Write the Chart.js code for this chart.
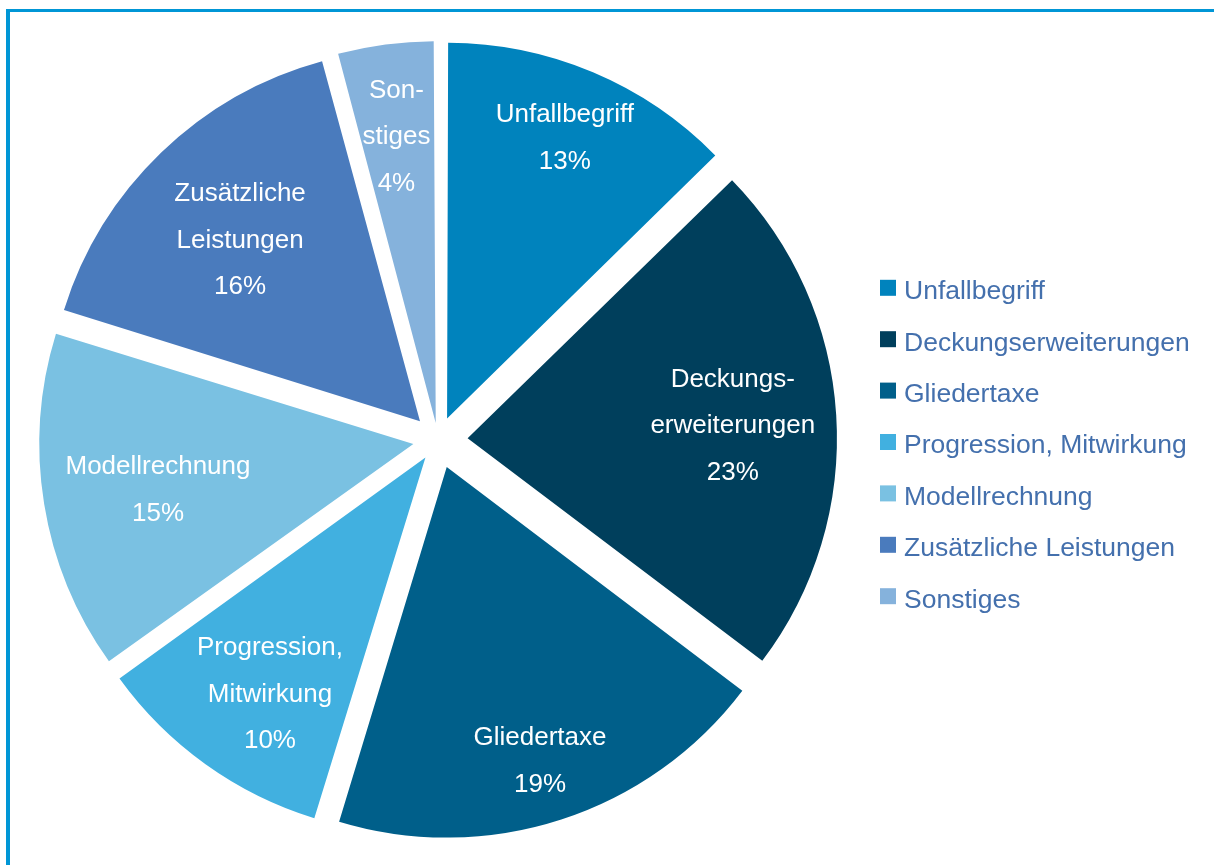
<!DOCTYPE html>
<html><head><meta charset="utf-8">
<script src="https://cdn.jsdelivr.net/npm/chart.js@4/dist/chart.umd.min.js"></script>
<style>
html,body{margin:0;padding:0;background:#fff;overflow:hidden}
#wrap{position:relative;width:1214px;height:865px}
#frame{position:absolute;left:6px;top:9px;right:-10px;bottom:-10px;border-top:3px solid #0096d6;border-left:4px solid #0096d6}
canvas{position:absolute;left:0;top:0}
</style></head><body>
<div id="wrap"><div id="frame"></div><canvas id="c" width="1214" height="865"></canvas></div>
<script>
const categories = ["Unfallbegriff","Deckungserweiterungen","Gliedertaxe","Progression, Mitwirkung","Modellrechnung","Zusätzliche Leistungen","Sonstiges"];
const shares = [12.7,22.6,19.4,10.4,14.7,16.0,4.2];
const sliceLines = [["Unfallbegriff"],["Deckungs-","erweiterungen"],["Gliedertaxe"],["Progression,","Mitwirkung"],["Modellrechnung"],["Zusätzliche","Leistungen"],["Son-","stiges"]];
const colors = ["#0083bd","#003f5c","#005f8a","#41b0e0","#7ac1e2","#4a7bbd","#85b2dc"];

// label placement (fraction of radius from centre, angular nudge in degrees)
const labelDist = [0.892,0.800,0.909,0.822,0.770,0.765,0.834];
const labelNudge = [-0.2,0.5,0.3,-2.0,-0.6,-0.6,-0.2];
const EXPLODE = 30;
const FONT = '26px "Liberation Sans", Arial, sans-serif';
const LEGEND_FONT = '26.5px "Liberation Sans", Arial, sans-serif';

const total = shares.reduce((a,b)=>a+b,0);
// Chart.js v4 translates an arc by offset/4 * (1 + (1 - sin(circ))); compensate for uniform explosion
function uniformOffset(ctx){
  const circ = shares[ctx.dataIndex]/total*2*Math.PI;
  const fix = 1 - Math.sin(Math.min(Math.PI, circ));
  return 4*EXPLODE/(1+fix);
}

const sliceLabels = {
  id:'sliceLabels',
  afterDatasetsDraw(chart){
    const ctx = chart.ctx;
    const meta = chart.getDatasetMeta(0);
    ctx.save();
    ctx.font = FONT;
    ctx.fillStyle = '#ffffff'; ctx.textAlign='center'; ctx.textBaseline='middle';
    meta.data.forEach((arc,i)=>{
      const p = arc.getProps(['x','y','startAngle','endAngle','outerRadius'], true);
      const mid = (p.startAngle+p.endAngle)/2 + labelNudge[i]*Math.PI/180;
      const d = labelDist[i]*p.outerRadius;
      const cx = p.x + Math.cos(mid)*d, cy = p.y + Math.sin(mid)*d + 2;
      const lines = sliceLines[i].concat([Math.round(shares[i]/total*100)+'%']);
      const lh = 46.5;
      lines.forEach((t,k)=> ctx.fillText(t, cx, cy + (k-(lines.length-1)/2)*lh));
    });
    ctx.restore();
  }
};

const sideLegend = {
  id:'sideLegend',
  afterDraw(chart){
    const ctx = chart.ctx;
    const a = chart.chartArea;
    const step = 51.4;
    const cy0 = (a.top+a.bottom)/2 + 6 - step*(categories.length-1)/2;
    ctx.save();
    ctx.font = LEGEND_FONT; ctx.textBaseline='middle'; ctx.textAlign='left';
    categories.forEach((c,i)=>{
      const y = cy0 + i*step;
      ctx.fillStyle = colors[i];
      ctx.fillRect(a.right+4, y-12, 16, 16);
      ctx.fillStyle = '#4470ad';
      ctx.fillText(c, a.right+28, y);
    });
    ctx.restore();
  }
};

new Chart(document.getElementById('c'), {
  type:'pie',
  data:{ labels: categories, datasets:[{ data: shares, backgroundColor: colors, borderWidth:0, offset:uniformOffset, hoverOffset:uniformOffset }]},
  options:{
    responsive:false, devicePixelRatio:1, animation:false,
    radius:369,
    layout:{ padding:{ left:0, right:338, top:15, bottom:0 } },
    plugins:{ legend:{display:false}, tooltip:{enabled:false} }
  },
  plugins:[sliceLabels, sideLegend]
});
</script>
</body></html>
